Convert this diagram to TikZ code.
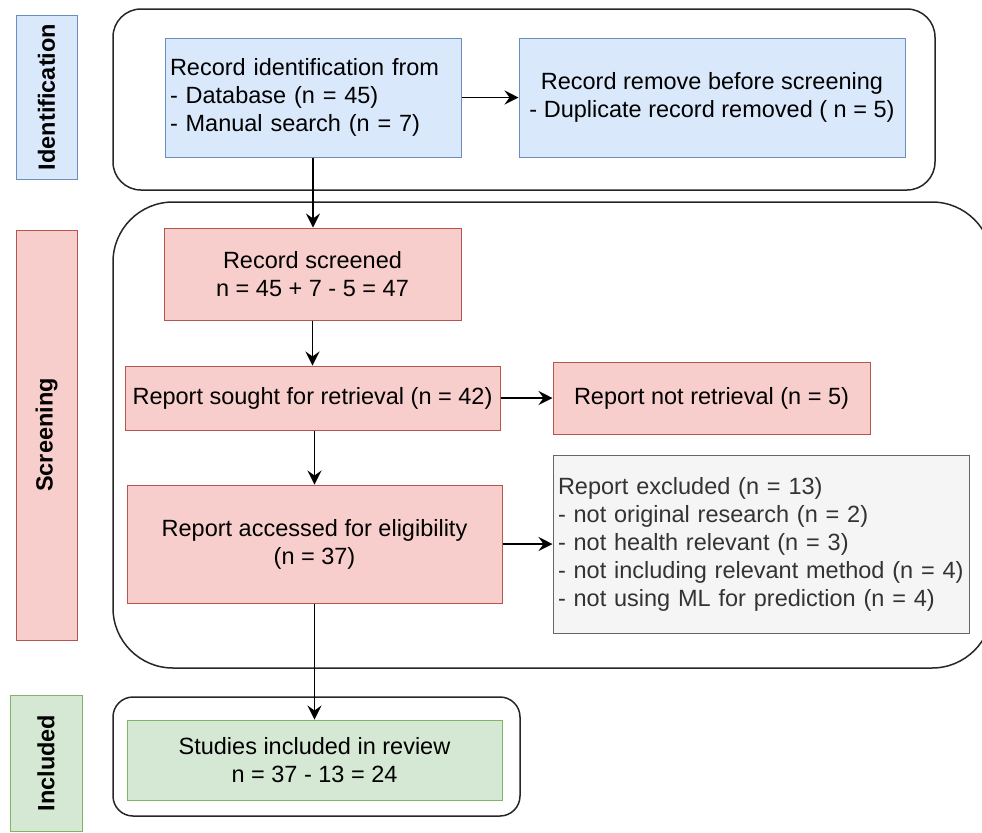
\documentclass[tikz,border=0pt]{standalone}
\usepackage{fontspec}
\setmainfont{Liberation Sans}
\usetikzlibrary{arrows.meta}
\definecolor{bluefill}{HTML}{DAE8FC}
\definecolor{bluedraw}{HTML}{6C8EBF}
\definecolor{redfill}{HTML}{F8CECC}
\definecolor{reddraw}{HTML}{B85450}
\definecolor{greenfill}{HTML}{D5E8D4}
\definecolor{greendraw}{HTML}{82B366}
\definecolor{greyfill}{HTML}{F5F5F5}
\definecolor{greydraw}{HTML}{666666}
\definecolor{greytext}{HTML}{333333}

\begin{document}
\begin{tikzpicture}[x=0.5pt, y=-0.5pt,
  font=\fontsize{11.75}{14}\selectfont,
  box/.style={draw, line width=0.5pt, inner sep=2.5pt, align=center},
  bluebox/.style={box, fill=bluefill, draw=bluedraw},
  redbox/.style={box, fill=redfill, draw=reddraw},
  greenbox/.style={box, fill=greenfill, draw=greendraw},
  greybox/.style={box, fill=greyfill, draw=greydraw, text=greytext},
  phase/.style={rotate=90, font=\fontsize{11.75}{14}\selectfont\bfseries},
  group/.style={draw=black!85, line width=0.75pt},
  flow/.style={draw, line width=0.75pt, -{Stealth[length=7pt,width=7pt,inset=2.5pt]}}]

\useasboundingbox (0,0) rectangle (982,832);

% phase groups
\draw[group, rounded corners=14pt] (113,9) rectangle (935,190);
\draw[group, rounded corners=30pt] (113,202) rectangle (992,668);
\draw[group, rounded corners=10pt] (113,697) rectangle (520,816);

% phase labels
\node[bluebox, phase, minimum width=82pt, minimum height=30.5pt] (identlbl) at (46.5,97) {Identification};
\node[redbox, phase, minimum width=205pt, minimum height=30.5pt] (screenlbl) at (46.5,435) {Screening};
\node[greenbox, phase, minimum width=68pt, minimum height=36pt] (incllbl) at (46,763) {Included};

% identification
\node[bluebox, align=left, text width=143pt, minimum height=59.5pt] (ident) at (313,97.5)
  {Record identification from\\- Database (n = 45)\\- Manual search (n = 7)};
\node[bluebox, minimum width=193pt, minimum height=59.5pt] (removed) at (712,97.5)
  {Record remove before screening\\- Duplicate record removed ( n = 5)};

% screening
\node[redbox, minimum width=148.5pt, minimum height=46pt] (screened) at (312.5,274)
  {Record screened\\n = 45 + 7 - 5 = 47};
\node[redbox, minimum width=187.5pt, minimum height=32pt] (sought) at (312.5,398)
  {Report sought for retrieval (n = 42)};
\node[redbox, minimum width=158.5pt, minimum height=36pt] (notretr) at (711.5,398)
  {Report not retrieval (n = 5)};
\node[redbox, minimum width=187.5pt, minimum height=59pt] (accessed) at (314.5,544)
  {Report accessed for eligibility\\(n = 37)};
\node[greybox, align=left, text width=203pt, minimum height=89pt] (excluded) at (761,544)
  {Report excluded (n = 13)\\- not original research (n = 2)\\- not health relevant (n = 3)\\- not including relevant method (n = 4)\\- not using ML for prediction (n = 4)};

% included
\node[greenbox, minimum width=187.5pt, minimum height=40pt] (studies) at (314.5,760)
  {Studies included in review\\n = 37 - 13 = 24};

% arrows
\draw[flow] (ident) -- (removed);
\draw[flow] (ident.south) -- (ident.south |- screened.north);
\draw[flow] (screened) -- (sought);
\draw[flow] (sought) -- (notretr);
\draw[flow] (sought.south -| accessed.north) -- (accessed.north);
\draw[flow] (accessed) -- (excluded);
\draw[flow] (accessed) -- (studies);
\end{tikzpicture}
\end{document}
